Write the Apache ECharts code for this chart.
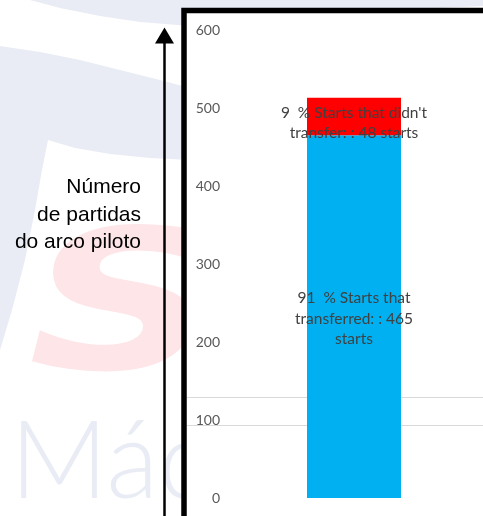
<!DOCTYPE html>
<html>
<head>
<meta charset="utf-8">
<script src="https://cdn.jsdelivr.net/npm/echarts@6/dist/echarts.min.js"></script>
<style>html,body{margin:0;padding:0;background:#fff;}#c{width:483px;height:516px;}</style>
</head>
<body>
<div id="c"></div>
<script>
var categories = ['Starts'];
var transferred = [465];
var notTransferred = [48];
var transferredPct = [91];
var notTransferredPct = [9];
var yTicks = [0, 100, 200, 300, 400, 500, 600];
var axisTitleLines = ['Número', 'de partidas', 'do arco piloto'];

var chart = echarts.init(document.getElementById('c'));
var wm = '#e9ecf4';
chart.setOption({
  backgroundColor: '#ffffff',
  animation: false,
  grid: { left: 225, right: 0, top: 30, bottom: 18, containLabel: false },
  xAxis: { type: 'category', data: categories, show: false },
  yAxis: {
    type: 'value', min: yTicks[0], max: yTicks[yTicks.length - 1], interval: 100,
    axisLine: { show: false }, axisTick: { show: false }, splitLine: { show: false },
    axisLabel: { color: '#595959', fontFamily: 'Lato', fontSize: 14, margin: 5 }
  },
  series: [
    {
      type: 'bar', stack: 'total', data: transferred, barWidth: 94,
      itemStyle: { color: '#00b0f0' },
      label: {
        show: true, position: 'inside', offset: [0, 2], color: '#404040', fontFamily: 'Lato', fontSize: 15.5, lineHeight: 20.5,
        formatter: function (p) { return transferredPct[p.dataIndex] + '  % Starts that\ntransferred: : ' + p.value + '\nstarts'; }
      }
    },
    {
      type: 'bar', stack: 'total', data: notTransferred, barWidth: 94,
      itemStyle: { color: '#ff0000' },
      label: {
        show: true, position: 'inside', offset: [0, 6], color: '#404040', fontFamily: 'Lato', fontSize: 15.5, lineHeight: 20,
        formatter: function (p) { return notTransferredPct[p.dataIndex] + '  % Starts that didn\'t\ntransfer: : ' + p.value + ' starts'; }
      }
    }
  ],
  graphic: [
    { type: 'polygon', z: -20, shape: { points: [[30,0],[60,8],[100,16],[140,22],[190,26],[260,22],[340,15],[420,9],[483,6],[483,0]] }, style: { fill: wm } },
    { type: 'polygon', z: -20, shape: { points: [[0,46],[40,52],[80,60],[120,70],[160,80],[190,88],[190,160],[150,158],[110,154],[75,148],[48,140],[42,170],[35,210],[25,260],[12,310],[0,350]] }, style: { fill: wm } },
    { type: 'text', z: -19, x: 28, y: 318, scaleX: 1.35, style: { text: 'S', font: 'italic 900 195px "DejaVu Sans"', fill: '#fde5e8', align: 'left', verticalAlign: 'middle' } },
    { type: 'text', z: -19, x: 10, y: 463, style: { text: 'Máq', font: '300 108px Lato', fill: wm, align: 'left', verticalAlign: 'middle' } },
    { type: 'rect', z: -10, shape: { x: 184, y: 10.5, width: 400, height: 600 }, style: { fill: '#ffffff', stroke: '#000000', lineWidth: 5.5 } },
    { type: 'line', z: -5, shape: { x1: 187, y1: 397.5, x2: 483, y2: 397.5 }, style: { stroke: '#d9d9d9', lineWidth: 1 } },
    { type: 'line', z: -5, shape: { x1: 187, y1: 425.5, x2: 483, y2: 425.5 }, style: { stroke: '#d9d9d9', lineWidth: 1 } },
    { type: 'line', z: 5, shape: { x1: 164.5, y1: 516, x2: 164.5, y2: 42 }, style: { stroke: '#000000', lineWidth: 2.5 } },
    { type: 'polygon', z: 5, shape: { points: [[164.5, 27.5], [155, 43.5], [174, 43.5]] }, style: { fill: '#000000' } },
    { type: 'text', z: 5, x: 141, y: 215, style: { text: axisTitleLines.join('\n'), font: '21px "Liberation Sans"', fill: '#000000', align: 'right', verticalAlign: 'middle', lineHeight: 27.5 } }
  ]
});
</script>
</body>
</html>
